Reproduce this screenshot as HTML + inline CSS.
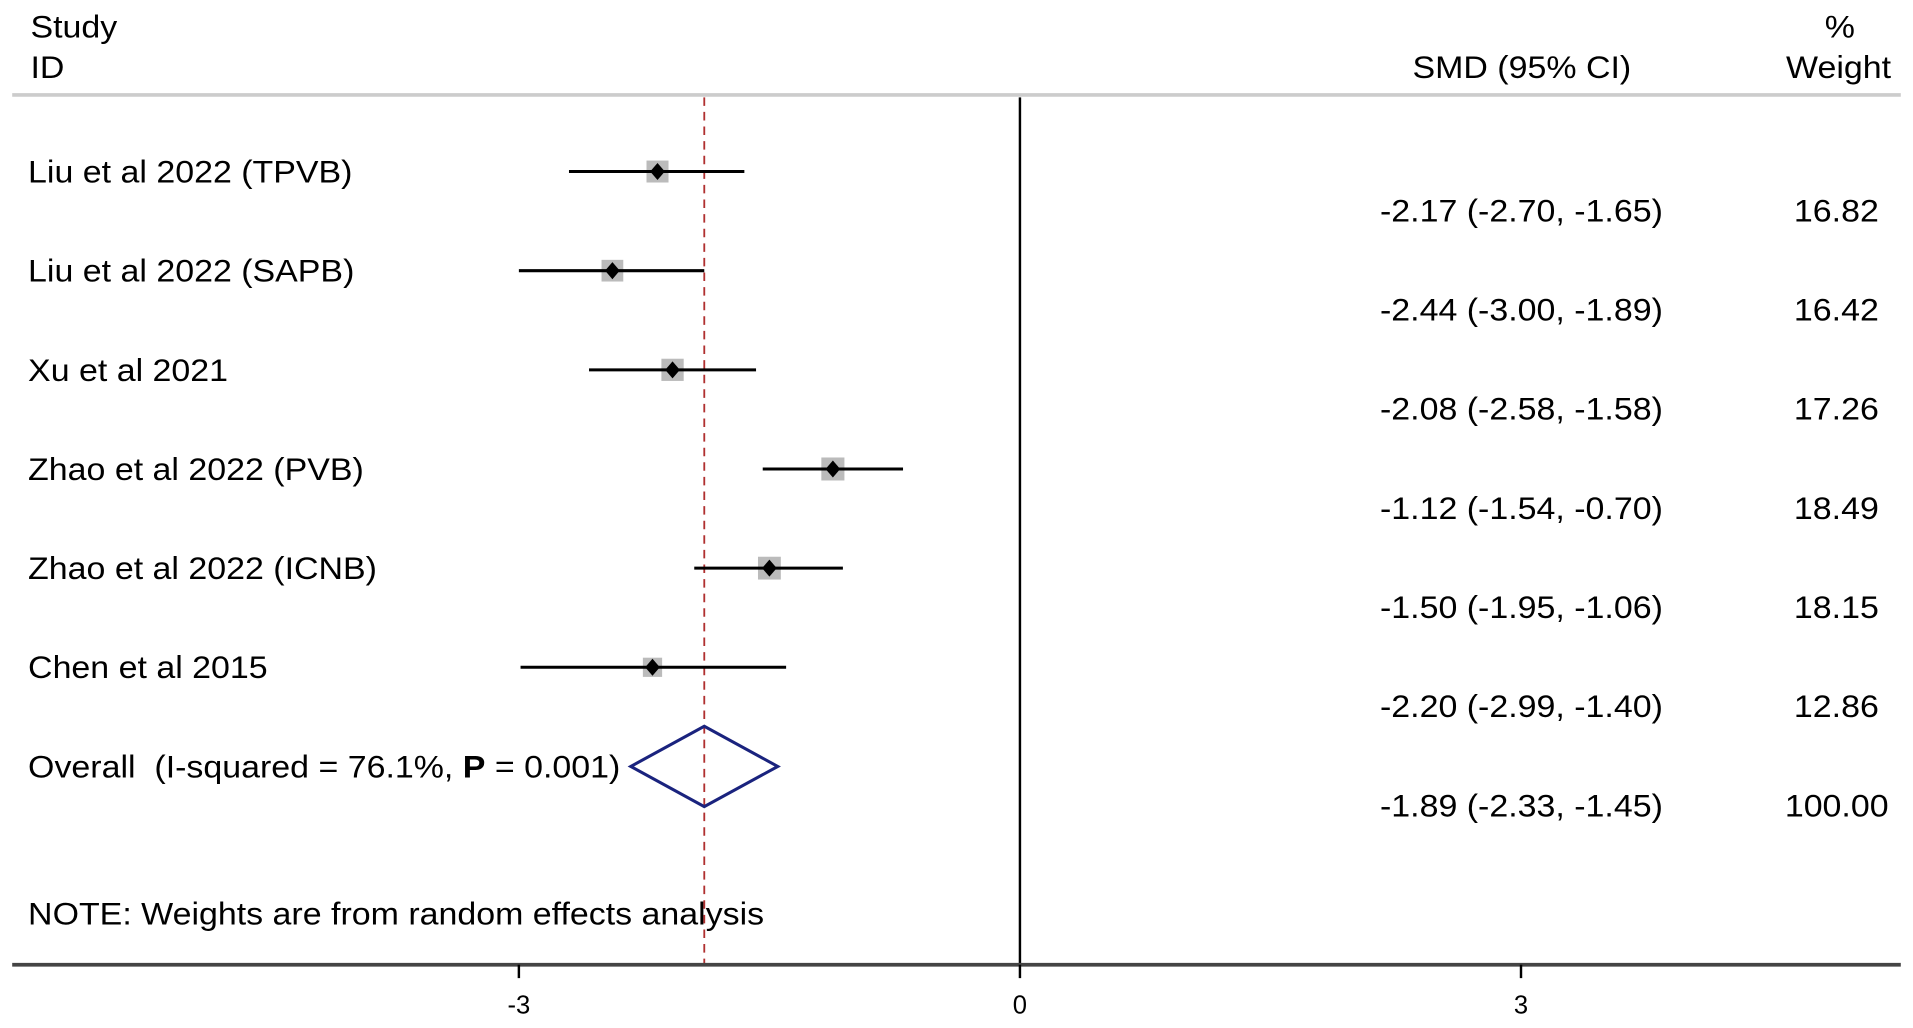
<!DOCTYPE html>
<html><head><meta charset="utf-8"><style>
html,body{margin:0;padding:0;background:#fff;}
svg{display:block;font-family:"Liberation Sans",Arial,sans-serif;}
</style></head><body>
<svg id="chart" width="1913" height="1028" viewBox="0 0 1568 845" preserveAspectRatio="none" xmlns="http://www.w3.org/2000/svg">
<g id="static" font-size="26" fill="#000">
<text transform="translate(25,31) scale(1.07,1)">Study</text>
<text transform="translate(25,64) scale(1.07,1)">ID</text>
<text transform="translate(1337,64) scale(1.07,1)" text-anchor="end">SMD (95% CI)</text>
<text transform="translate(1508,31) scale(1.07,1)" text-anchor="middle">%</text>
<text transform="translate(1550,64) scale(1.07,1)" text-anchor="end">Weight</text>
<line x1="10" y1="78" x2="1558" y2="78" stroke="#ccc" stroke-width="3"/>
<text transform="translate(23,760) scale(1.07,1)">NOTE: Weights are from random effects analysis</text>
</g>
<g id="marks"></g>
</svg>
<script>
const studies=["Liu et al 2022 (TPVB)","Liu et al 2022 (SAPB)","Xu et al 2021","Zhao et al 2022 (PVB)","Zhao et al 2022 (ICNB)","Chen et al 2015"];
const smd=[-2.17,-2.44,-2.08,-1.12,-1.50,-2.20];
const lower=[-2.70,-3.00,-2.58,-1.54,-1.95,-2.99];
const upper=[-1.65,-1.89,-1.58,-0.70,-1.06,-1.40];
const weights=[16.82,16.42,17.26,18.49,18.15,12.86];
const overall=[-1.89,-2.33,-1.45];
const overallWeight=100.00;
const xTicks=[-3,0,3];
const NS="http://www.w3.org/2000/svg";
const g=document.getElementById('marks');
const X=v=>836+v*136.9;
const rowY=i=>141+i*81.5;
function mk(t,a){const e=document.createElementNS(NS,t);for(const k in a)e.setAttribute(k,a[k]);g.appendChild(e);return e;}
function tx(x,y,a){return mk('text',Object.assign({transform:`translate(${x},${y}) scale(1.07,1)`,'font-size':26},a||{}));}
const axisY=793;
let e;
e=mk('line',{x1:X(0),y1:80,x2:X(0),y2:axisY,stroke:'#000','stroke-width':2});


e=mk('line',{x1:X(overall[0]),y1:80,x2:X(overall[0]),y2:axisY,stroke:'#b03030','stroke-width':1.5,'stroke-dasharray':'7,5'});


studies.forEach((s,i)=>{
 const y=rowY(i);
 e=tx(23,y+9);e.textContent=s;
 
 
 const sz=Math.sqrt(weights[i])*4.4;
 e=mk('rect',{x:X(smd[i])-sz/2,y:y-sz/2,width:sz,height:sz,fill:'#bbb'});
 
 
 e=mk('line',{x1:X(lower[i]),y1:y,x2:X(upper[i]),y2:y,stroke:'#000','stroke-width':2.5});
 
 
 const cx=X(smd[i]);
 e=mk('polygon',{points:`${cx},${y-7} ${cx+6},${y} ${cx},${y+7} ${cx-6},${y}`,fill:'#000'});
 
 
 e=tx(1363,y+41,{'text-anchor':'end'});
 e.textContent=`${smd[i].toFixed(2)} (${lower[i].toFixed(2)}, ${upper[i].toFixed(2)})`;
 
 
 e=tx(1540,y+41,{'text-anchor':'end'});
 e.textContent=weights[i].toFixed(2);
 
 
});
const oy=rowY(6);
e=tx(23,oy+9);
e.innerHTML='Overall\u00a0\u00a0(I-squared = 76.1%, <tspan font-weight="bold">P</tspan> = 0.001)';


e=mk('polygon',{points:`${X(overall[1])},${oy} ${X(overall[0])},${oy-33} ${X(overall[2])},${oy} ${X(overall[0])},${oy+33}`,fill:'none',stroke:'#1a237e','stroke-width':2.5});


e=tx(1363,oy+41,{'text-anchor':'end'});
e.textContent=`${overall[0].toFixed(2)} (${overall[1].toFixed(2)}, ${overall[2].toFixed(2)})`;


e=tx(1548,oy+41,{'text-anchor':'end'});
e.textContent=overallWeight.toFixed(2);


e=mk('line',{x1:10,y1:axisY,x2:1558,y2:axisY,stroke:'#444','stroke-width':3});


xTicks.forEach(t=>{
 e=mk('line',{x1:X(t),y1:axisY,x2:X(t),y2:axisY+11,stroke:'#000','stroke-width':2});
 
 
 e=mk('text',{x:X(t),y:axisY+40,'font-size':21,'text-anchor':'middle'});
 e.textContent=t;
 
 
});
</script>
</body></html>
